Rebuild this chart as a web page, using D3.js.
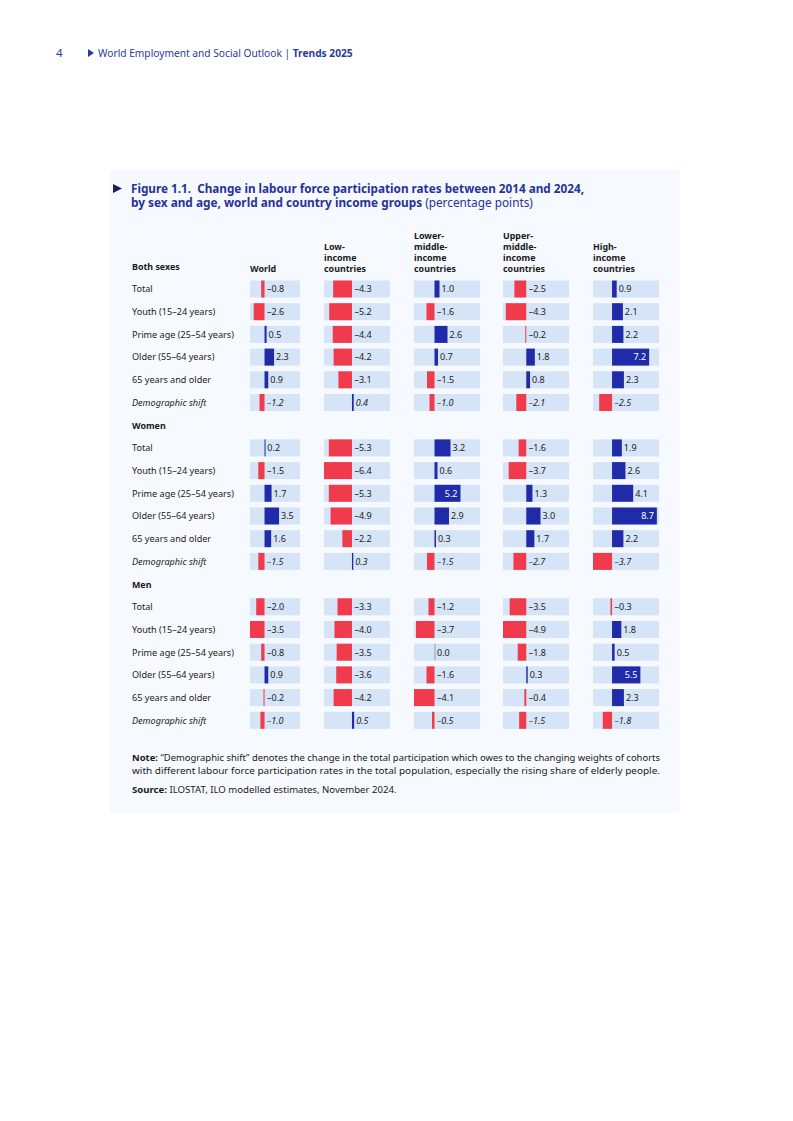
<!DOCTYPE html>
<html>
<head>
<meta charset="utf-8">
<script src="https://cdn.jsdelivr.net/npm/d3@7"></script>
<style>
  body { margin: 0; background: #fff; }
  svg { display: block; font-family: "Noto Sans", sans-serif; }
  text { white-space: pre; }
</style>
</head>
<body>
<svg id="chart" width="793" height="1121"></svg>
<script>
// column headings (one entry per line)
const columns = ["World", "Low-income countries", "Lower-middle-income countries",
                 "Upper-middle-income countries", "High-income countries"];
const columnLines = [["World"], ["Low-", "income", "countries"], ["Lower-", "middle-", "income", "countries"],
                     ["Upper-", "middle-", "income", "countries"], ["High-", "income", "countries"]];

const sections = ["Both sexes", "Women", "Men"];
const ageGroups = ["Total", "Youth (15–24 years)", "Prime age (25–54 years)", "Older (55–64 years)",
                   "65 years and older", "Demographic shift"];

// values per column, rows in ageGroups order (percentage points)
const bothSexes = [
  [-0.8, -2.6, 0.5, 2.3, 0.9, -1.2],
  [-4.3, -5.2, -4.4, -4.2, -3.1, 0.4],
  [1.0, -1.6, 2.6, 0.7, -1.5, -1.0],
  [-2.5, -4.3, -0.2, 1.8, 0.8, -2.1],
  [0.9, 2.1, 2.2, 7.2, 2.3, -2.5]
];
const women = [
  [0.2, -1.5, 1.7, 3.5, 1.6, -1.5],
  [-5.3, -6.4, -5.3, -4.9, -2.2, 0.3],
  [3.2, 0.6, 5.2, 2.9, 0.3, -1.5],
  [-1.6, -3.7, 1.3, 3.0, 1.7, -2.7],
  [1.9, 2.6, 4.1, 8.7, 2.2, -3.7]
];
const men = [
  [-2.0, -3.5, -0.8, 0.9, -0.2, -1.0],
  [-3.3, -4.0, -3.5, -3.6, -4.2, 0.5],
  [-1.2, -3.7, 0.0, -1.6, -4.1, -0.5],
  [-3.5, -4.9, -1.8, 0.3, -0.4, -1.5],
  [-0.3, 1.8, 0.5, 5.5, 2.3, -1.8]
];
const sectionData = [bothSexes, women, men];

// layout
const colLeft = [250, 324, 414, 503, 593];   // left edge of each cell background
const colWidth = [50, 66, 66, 66, 66];
const pxPerPoint = [4.15, 4.37, 5.0, 4.75, 5.15]; // each panel has its own scale
const rowY0 = 289, rowStep = 22.7, cellH = 17;
const red = "#ef3b4b", blue = "#1f2ba8", cellBg = "#d5e4f6";

const svg = d3.select("#chart");

// page header
svg.append("text").attr("x", 56).attr("y", 57).attr("font-size", 11.5)
  .attr("fill", "#2a3a9e").text("4");
svg.append("path").attr("d", "M88,49 L94,53 L88,57 Z").attr("fill", "#2a3a9e");
let head = svg.append("text").attr("x", 98).attr("y", 57).attr("font-size", 10.2).attr("fill", "#2a3a9e");
head.append("tspan").text("World Employment and Social Outlook | ");
head.append("tspan").attr("font-weight", "bold").text("Trends 2025");

// figure panel
svg.append("rect").attr("x", 110).attr("y", 170).attr("width", 570).attr("height", 643)
  .attr("rx", 4).attr("fill", "#f6f9fe");

// title
svg.append("path").attr("d", "M113,184 L122,188.5 L113,193 Z").attr("fill", "#1b2060");
svg.append("text").attr("x", 131).attr("y", 193).attr("font-size", 11.8).attr("font-weight", "bold")
  .attr("fill", "#27329a").attr("textLength", 453).attr("lengthAdjust", "spacingAndGlyphs")
  .text("Figure 1.1.  Change in labour force participation rates between 2014 and 2024,");
let t2 = svg.append("text").attr("x", 131).attr("y", 207).attr("font-size", 11.8).attr("fill", "#27329a");
t2.append("tspan").attr("font-weight", "bold").text("by sex and age, world and country income groups ");
t2.append("tspan").text("(percentage points)");

// column headings, bottom-aligned
columnLines.forEach((lines, c) => {
  lines.forEach((ln, i) => {
    svg.append("text").attr("x", colLeft[c]).attr("y", 272 - (lines.length - 1 - i) * 11)
      .attr("font-size", 8.9).attr("font-weight", "bold").attr("fill", "#1a1a1a").text(ln);
  });
});

// one scale per column, domain starting at column minimum at the cell's left edge
const allCols = columns.map((c, ci) => sectionData.flatMap(s => s[ci]));
const xScales = columns.map((c, ci) => {
  const lo = d3.min(allCols[ci]);
  const hi = d3.max(allCols[ci]);
  return d3.scaleLinear().domain([lo, hi])
    .range([colLeft[ci], colLeft[ci] + (hi - lo) * pxPerPoint[ci]]);
});

const fmt = v => (v < 0 ? "–" : "") + d3.format(".1f")(Math.abs(v));

sections.forEach((sec, si) => {
  const base = rowY0 + si * 7 * rowStep;
  // section heading
  svg.append("text").attr("x", 132).attr("y", base - rowStep + 3.5)
    .attr("font-size", 8.9).attr("font-weight", "bold").attr("fill", "#1a1a1a").text(sec);

  ageGroups.forEach((ag, ri) => {
    const cy = base + ri * rowStep;
    const italic = ag === "Demographic shift";
    svg.append("text").attr("x", 132).attr("y", cy + 3.3).attr("font-size", 9.1)
      .attr("font-style", italic ? "italic" : null).attr("fill", "#222").text(ag);

    columns.forEach((c, ci) => {
      const v = sectionData[si][ci][ri];
      const x = xScales[ci];
      const x0 = x(0);
      svg.append("rect").attr("x", colLeft[ci]).attr("y", cy - cellH / 2)
        .attr("width", colWidth[ci]).attr("height", cellH).attr("fill", cellBg);
      const w = Math.max(Math.abs(x(v) - x0), 1);
      svg.append("rect")
        .attr("x", v < 0 ? x0 - w : x0).attr("y", cy - cellH / 2)
        .attr("width", w).attr("height", cellH)
        .attr("fill", v < 0 ? red : v > 0 ? blue : "#8e9cb8");
      const inside = v > 0 && (x(v) - x0) > 24;
      svg.append("text")
        .attr("x", inside ? x(v) - 3 : (v > 0 ? x(v) + 2 : x0 + 2.5))
        .attr("y", cy + 3.3)
        .attr("text-anchor", inside ? "end" : "start")
        .attr("font-size", 9)
        .attr("font-style", italic ? "italic" : null)
        .attr("fill", inside ? "#fff" : "#222")
        .text(fmt(v));
    });
  });
});

// note and source
let n1 = svg.append("text").attr("x", 132).attr("y", 761).attr("font-size", 9.3).attr("fill", "#1a1a1a")
  .attr("textLength", 528).attr("lengthAdjust", "spacingAndGlyphs");
n1.append("tspan").attr("font-weight", "bold").text("Note: ");
n1.append("tspan").text("“Demographic shift” denotes the change in the total participation which owes to the changing weights of cohorts");
svg.append("text").attr("x", 132).attr("y", 774).attr("font-size", 9.3).attr("fill", "#1a1a1a")
  .attr("textLength", 528).attr("lengthAdjust", "spacingAndGlyphs")
  .text("with different labour force participation rates in the total population, especially the rising share of elderly people.");
let s1 = svg.append("text").attr("x", 132).attr("y", 793).attr("font-size", 9.6).attr("fill", "#1a1a1a");
s1.append("tspan").attr("font-weight", "bold").text("Source: ");
s1.append("tspan").text("ILOSTAT, ILO modelled estimates, November 2024.");
</script>
</body>
</html>
